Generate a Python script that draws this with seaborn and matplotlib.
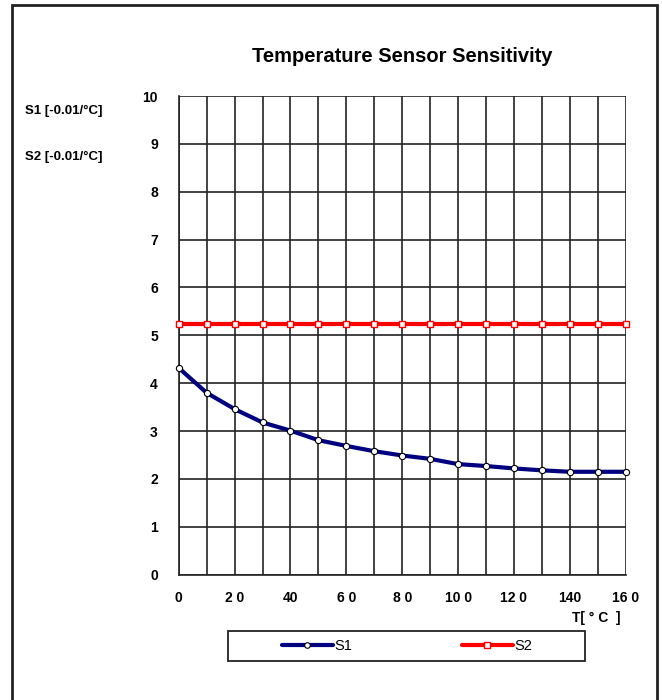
import matplotlib
matplotlib.use("Agg")
import matplotlib.pyplot as plt
import matplotlib.patches as patches
from matplotlib.lines import Line2D
import seaborn as sns
import pandas as pd

# data
temps = [0, 10, 20, 30, 40, 50, 60, 70, 80, 90, 100, 110, 120, 130, 140, 150, 160]
s1 = [4.32, 3.80, 3.46, 3.18, 3.01, 2.81, 2.69, 2.58, 2.49, 2.42, 2.31, 2.27,
      2.22, 2.18, 2.15, 2.15, 2.15]
s2 = [5.23] * 17
x_tick_labels = ["0", "", "2 0", "", "40", "", "6 0", "", "8 0", "", "10 0", "",
                 "12 0", "", "140", "", "16 0"]
y_ticks = list(range(0, 11))

df = pd.DataFrame({"T": temps, "S1": s1, "S2": s2})

sns.set_style("white")
plt.rcParams["font.family"] = ["Liberation Sans", "DejaVu Sans"]
plt.rcParams["text.color"] = "black"
plt.rcParams["xtick.color"] = "black"
plt.rcParams["ytick.color"] = "black"

fig = plt.figure(figsize=(6.62, 7.0), dpi=100)
ax = fig.add_axes([178.7 / 662, 1 - 574.7 / 700, (625.7 - 178.7) / 662, (574.7 - 96) / 700])

sns.lineplot(data=df, x="T", y="S2", color="red", lw=3, marker="s", ms=4.5,
             markerfacecolor="white", markeredgecolor="red", markeredgewidth=1,
             ax=ax, zorder=3, clip_on=False)
sns.lineplot(data=df, x="T", y="S1", color="#000080", lw=3, marker="o", ms=4.5,
             markerfacecolor="white", markeredgecolor="black", markeredgewidth=0.8,
             ax=ax, zorder=4, clip_on=False)

ax.set_xlim(0, 160)
ax.set_ylim(0, 10)
ax.set_xticks(temps)
ax.set_xticklabels(x_tick_labels, fontsize=10, fontweight="bold")
ax.set_yticks(y_ticks)
ax.set_yticklabels([str(v) for v in y_ticks], fontsize=10, fontweight="bold")
ax.tick_params(axis="both", direction="out", length=4, width=1, color="black", pad=8)
ax.tick_params(axis="y", pad=11)
ax.grid(True, color="#222222", lw=1.2)
for side in ["top", "right"]:
    ax.spines[side].set_visible(False)
for side in ["left", "bottom"]:
    ax.spines[side].set_color("#222222")
    ax.spines[side].set_linewidth(1.2)
ax.set_xlabel("")
ax.set_ylabel("")

fig.text(402 / 662, 1 - 57 / 700, "Temperature Sensor Sensitivity",
         ha="center", va="center", fontsize=14.5, fontweight="bold")
fig.text(25 / 662, 1 - 111 / 700, "S1 [-0.01/°C]", ha="left", va="center",
         fontsize=9.5, fontweight="bold")
fig.text(25 / 662, 1 - 157 / 700, "S2 [-0.01/°C]", ha="left", va="center",
         fontsize=9.5, fontweight="bold")
fig.text(621 / 662, 1 - 618 / 700, "T[ ° C  ]", ha="right", va="center",
         fontsize=10, fontweight="bold")

handles = [
    Line2D([], [], color="#000080", lw=3, marker="o", ms=4,
           markerfacecolor="white", markeredgecolor="black", markeredgewidth=0.8),
    Line2D([], [], color="red", lw=3, marker="s", ms=4,
           markerfacecolor="white", markeredgecolor="red", markeredgewidth=1),
]
leg = fig.legend(handles, ["S1", "S2"], ncol=2, loc="center",
                 bbox_to_anchor=(407 / 662, 1 - 646 / 700), frameon=False,
                 fontsize=10.5, handlelength=3.5, columnspacing=7.5,
                 handletextpad=0.1, borderaxespad=0)

legend_box = patches.Rectangle((228 / 662, 1 - 661 / 700), (585 - 228) / 662, 30 / 700,
                               transform=fig.transFigure, fill=False,
                               edgecolor="#222222", lw=1.3)
fig.patches.append(legend_box)

frame = patches.Rectangle((12 / 662, -0.05), (657 - 12) / 662, 1 - 5 / 700 + 0.05,
                          transform=fig.transFigure, fill=False,
                          edgecolor="#222222", lw=2, clip_on=False)
fig.patches.append(frame)

fig.savefig("out.png", dpi=100)
